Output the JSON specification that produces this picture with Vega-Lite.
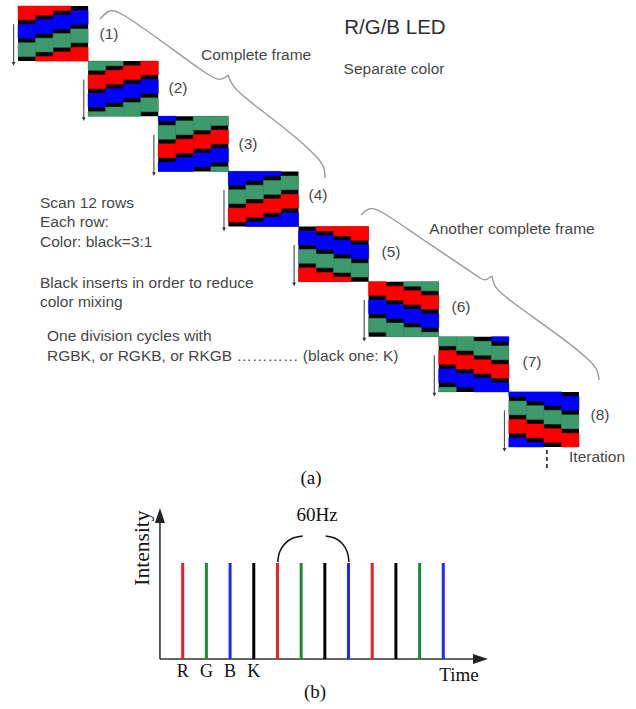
{
  "$schema": "https://vega.github.io/schema/vega-lite/v6.json",
  "padding": 0,
  "spacing": 0,
  "background": "white",
  "config": {"view": {"stroke": null}, "concat": {"spacing": 0}},
  "resolve": {"scale": {"x": "independent", "y": "independent", "color": "independent"}},
  "vconcat": [
    {
      "width": 636,
      "height": 490,
      "encoding": {
        "x": {"field": "x", "type": "quantitative", "scale": {"domain": [-1.027, 35.253], "nice": false, "zero": false}, "axis": null},
        "y": {"field": "y", "type": "quantitative", "scale": {"domain": [-1.306, 105.36], "nice": false, "zero": false, "reverse": true}, "axis": null}
      },
      "layer": [
        {
          "data": {"values": [
            {"x":0,"x2":4,"y":0,"y2":12},{"x":4,"x2":8,"y":12,"y2":24},{"x":8,"x2":12,"y":24,"y2":36},{"x":12,"x2":16,"y":36,"y2":48},
            {"x":16,"x2":20,"y":48,"y2":60},{"x":20,"x2":24,"y":60,"y2":72},{"x":24,"x2":28,"y":72,"y2":84},{"x":28,"x2":32,"y":84,"y2":96}
          ]},
          "mark": {"type": "rect", "fill": "#000000"},
          "encoding": {"x2": {"field": "x2"}, "y2": {"field": "y2"}}
        },
        {
          "data": {"values": [
            {"x":0,"x2":1,"y":0,"y2":3,"k":"R"},{"x":0,"x2":1,"y":4,"y2":7,"k":"B"},{"x":0,"x2":1,"y":8,"y2":11,"k":"G"},
            {"x":1,"x2":2,"y":0,"y2":2,"k":"R"},{"x":1,"x2":2,"y":3,"y2":6,"k":"B"},{"x":1,"x2":2,"y":7,"y2":10,"k":"G"},{"x":1,"x2":2,"y":11,"y2":12,"k":"R"},
            {"x":2,"x2":3,"y":0,"y2":1,"k":"R"},{"x":2,"x2":3,"y":2,"y2":5,"k":"B"},{"x":2,"x2":3,"y":6,"y2":9,"k":"G"},{"x":2,"x2":3,"y":10,"y2":12,"k":"R"},
            {"x":3,"x2":4,"y":1,"y2":4,"k":"B"},{"x":3,"x2":4,"y":5,"y2":8,"k":"G"},{"x":3,"x2":4,"y":9,"y2":12,"k":"R"},
            {"x":4,"x2":5,"y":12,"y2":14,"k":"G"},{"x":4,"x2":5,"y":15,"y2":18,"k":"R"},{"x":4,"x2":5,"y":19,"y2":22,"k":"B"},{"x":4,"x2":5,"y":23,"y2":24,"k":"G"},
            {"x":5,"x2":6,"y":12,"y2":13,"k":"G"},{"x":5,"x2":6,"y":14,"y2":17,"k":"R"},{"x":5,"x2":6,"y":18,"y2":21,"k":"B"},{"x":5,"x2":6,"y":22,"y2":24,"k":"G"},
            {"x":6,"x2":7,"y":13,"y2":16,"k":"R"},{"x":6,"x2":7,"y":17,"y2":20,"k":"B"},{"x":6,"x2":7,"y":21,"y2":24,"k":"G"},
            {"x":7,"x2":8,"y":12,"y2":15,"k":"R"},{"x":7,"x2":8,"y":16,"y2":19,"k":"B"},{"x":7,"x2":8,"y":20,"y2":23,"k":"G"},
            {"x":8,"x2":9,"y":24,"y2":25,"k":"B"},{"x":8,"x2":9,"y":26,"y2":29,"k":"G"},{"x":8,"x2":9,"y":30,"y2":33,"k":"R"},{"x":8,"x2":9,"y":34,"y2":36,"k":"B"},
            {"x":9,"x2":10,"y":25,"y2":28,"k":"G"},{"x":9,"x2":10,"y":29,"y2":32,"k":"R"},{"x":9,"x2":10,"y":33,"y2":36,"k":"B"},
            {"x":10,"x2":11,"y":24,"y2":27,"k":"G"},{"x":10,"x2":11,"y":28,"y2":31,"k":"R"},{"x":10,"x2":11,"y":32,"y2":35,"k":"B"},
            {"x":11,"x2":12,"y":24,"y2":26,"k":"G"},{"x":11,"x2":12,"y":27,"y2":30,"k":"R"},{"x":11,"x2":12,"y":31,"y2":34,"k":"B"},{"x":11,"x2":12,"y":35,"y2":36,"k":"G"},
            {"x":12,"x2":13,"y":36,"y2":39,"k":"B"},{"x":12,"x2":13,"y":40,"y2":43,"k":"G"},{"x":12,"x2":13,"y":44,"y2":47,"k":"R"},
            {"x":13,"x2":14,"y":36,"y2":38,"k":"B"},{"x":13,"x2":14,"y":39,"y2":42,"k":"G"},{"x":13,"x2":14,"y":43,"y2":46,"k":"R"},{"x":13,"x2":14,"y":47,"y2":48,"k":"B"},
            {"x":14,"x2":15,"y":36,"y2":37,"k":"B"},{"x":14,"x2":15,"y":38,"y2":41,"k":"G"},{"x":14,"x2":15,"y":42,"y2":45,"k":"R"},{"x":14,"x2":15,"y":46,"y2":48,"k":"B"},
            {"x":15,"x2":16,"y":37,"y2":40,"k":"G"},{"x":15,"x2":16,"y":41,"y2":44,"k":"R"},{"x":15,"x2":16,"y":45,"y2":48,"k":"B"},
            {"x":16,"x2":17,"y":49,"y2":52,"k":"B"},{"x":16,"x2":17,"y":53,"y2":56,"k":"G"},{"x":16,"x2":17,"y":57,"y2":60,"k":"R"},
            {"x":17,"x2":18,"y":48,"y2":49,"k":"R"},{"x":17,"x2":18,"y":50,"y2":53,"k":"B"},{"x":17,"x2":18,"y":54,"y2":57,"k":"G"},{"x":17,"x2":18,"y":58,"y2":60,"k":"R"},
            {"x":18,"x2":19,"y":48,"y2":50,"k":"R"},{"x":18,"x2":19,"y":51,"y2":54,"k":"B"},{"x":18,"x2":19,"y":55,"y2":58,"k":"G"},{"x":18,"x2":19,"y":59,"y2":60,"k":"R"},
            {"x":19,"x2":20,"y":48,"y2":51,"k":"R"},{"x":19,"x2":20,"y":52,"y2":55,"k":"B"},{"x":19,"x2":20,"y":56,"y2":59,"k":"G"},
            {"x":20,"x2":21,"y":60,"y2":63,"k":"R"},{"x":20,"x2":21,"y":64,"y2":67,"k":"B"},{"x":20,"x2":21,"y":68,"y2":71,"k":"G"},
            {"x":21,"x2":22,"y":61,"y2":64,"k":"R"},{"x":21,"x2":22,"y":65,"y2":68,"k":"B"},{"x":21,"x2":22,"y":69,"y2":72,"k":"G"},
            {"x":22,"x2":23,"y":60,"y2":61,"k":"G"},{"x":22,"x2":23,"y":62,"y2":65,"k":"R"},{"x":22,"x2":23,"y":66,"y2":69,"k":"B"},{"x":22,"x2":23,"y":70,"y2":72,"k":"G"},
            {"x":23,"x2":24,"y":60,"y2":62,"k":"G"},{"x":23,"x2":24,"y":63,"y2":66,"k":"R"},{"x":23,"x2":24,"y":67,"y2":70,"k":"B"},{"x":23,"x2":24,"y":71,"y2":72,"k":"G"},
            {"x":24,"x2":25,"y":72,"y2":74,"k":"G"},{"x":24,"x2":25,"y":75,"y2":78,"k":"R"},{"x":24,"x2":25,"y":79,"y2":82,"k":"B"},{"x":24,"x2":25,"y":83,"y2":84,"k":"G"},
            {"x":25,"x2":26,"y":72,"y2":75,"k":"G"},{"x":25,"x2":26,"y":76,"y2":79,"k":"R"},{"x":25,"x2":26,"y":80,"y2":83,"k":"B"},
            {"x":26,"x2":27,"y":73,"y2":76,"k":"G"},{"x":26,"x2":27,"y":77,"y2":80,"k":"R"},{"x":26,"x2":27,"y":81,"y2":84,"k":"B"},
            {"x":27,"x2":28,"y":72,"y2":73,"k":"B"},{"x":27,"x2":28,"y":74,"y2":77,"k":"G"},{"x":27,"x2":28,"y":78,"y2":81,"k":"R"},{"x":27,"x2":28,"y":82,"y2":84,"k":"B"},
            {"x":28,"x2":29,"y":84,"y2":85,"k":"B"},{"x":28,"x2":29,"y":86,"y2":89,"k":"G"},{"x":28,"x2":29,"y":90,"y2":93,"k":"R"},{"x":28,"x2":29,"y":94,"y2":96,"k":"B"},
            {"x":29,"x2":30,"y":84,"y2":86,"k":"B"},{"x":29,"x2":30,"y":87,"y2":90,"k":"G"},{"x":29,"x2":30,"y":91,"y2":94,"k":"R"},{"x":29,"x2":30,"y":95,"y2":96,"k":"B"},
            {"x":30,"x2":31,"y":84,"y2":87,"k":"B"},{"x":30,"x2":31,"y":88,"y2":91,"k":"G"},{"x":30,"x2":31,"y":92,"y2":95,"k":"R"},
            {"x":31,"x2":32,"y":85,"y2":88,"k":"B"},{"x":31,"x2":32,"y":89,"y2":92,"k":"G"},{"x":31,"x2":32,"y":93,"y2":96,"k":"R"}
          ]},
          "mark": {"type": "rect", "strokeWidth": 0.5},
          "encoding": {
            "x2": {"field": "x2"},
            "y2": {"field": "y2"},
            "color": {"field": "k", "type": "nominal", "scale": {"domain": ["R", "G", "B"], "range": ["#ff0000", "#3d9a6c", "#0000ff"]}, "legend": null},
            "stroke": {"field": "k", "type": "nominal", "scale": {"domain": ["R", "G", "B"], "range": ["#ff0000", "#3d9a6c", "#0000ff"]}, "legend": null}
          }
        },
        {
          "data": {"values": [
            {"x":-0.25,"y":4,"y2":12.6},{"x":3.75,"y":16,"y2":24.6},{"x":7.75,"y":28,"y2":36.6},{"x":11.75,"y":40,"y2":48.6},
            {"x":15.75,"y":52,"y2":60.6},{"x":19.75,"y":64,"y2":72.6},{"x":23.75,"y":76,"y2":84.6},{"x":27.75,"y":88,"y2":96.6}
          ]},
          "mark": {"type": "rule", "color": "#555555", "strokeWidth": 1.2},
          "encoding": {"y2": {"field": "y2"}}
        },
        {
          "data": {"values": [
            {"x":-0.25,"y2":12.6},{"x":3.75,"y2":24.6},{"x":7.75,"y2":36.6},{"x":11.75,"y2":48.6},
            {"x":15.75,"y2":60.6},{"x":19.75,"y2":72.6},{"x":23.75,"y2":84.6},{"x":27.75,"y2":96.6}
          ]},
          "mark": {"type": "point", "shape": "M-1,-1L1,-1L0,1Z", "filled": true, "size": 14, "color": "#333333", "opacity": 1},
          "encoding": {"y": {"field": "y2", "type": "quantitative", "scale": {"domain": [-1.306, 105.36], "nice": false, "zero": false, "reverse": true}, "axis": null}}
        },
        {
          "data": {"values": [
            {"x":4.677,"y":2.830,"seg":"a1","o":0},{"x":5.134,"y":0.871,"seg":"a1","o":1},{"x":5.704,"y":0.871,"seg":"a1","o":2},{"x":8.100,"y":7.401,"seg":"a1","o":3},{"x":10.667,"y":14.585,"seg":"a1","o":4},{"x":11.522,"y":16.544,"seg":"a1","o":5},{"x":11.979,"y":15.020,"seg":"a1","o":6},
            {"x":11.979,"y":15.020,"seg":"a2","o":0},{"x":12.207,"y":17.415,"seg":"a2","o":1},{"x":12.949,"y":20.027,"seg":"a2","o":2},{"x":15.515,"y":27.428,"seg":"a2","o":3},{"x":17.113,"y":32.871,"seg":"a2","o":4},{"x":17.512,"y":35.265,"seg":"a2","o":5},{"x":17.512,"y":37.442,"seg":"a2","o":6},
            {"x":19.565,"y":45.496,"seg":"b1","o":0},{"x":19.965,"y":43.972,"seg":"b1","o":1},{"x":20.535,"y":43.972,"seg":"b1","o":2},{"x":22.931,"y":50.503,"seg":"b1","o":3},{"x":26.068,"y":58.340,"seg":"b1","o":4},{"x":26.582,"y":60.081,"seg":"b1","o":5},{"x":27.038,"y":58.775,"seg":"b1","o":6},
            {"x":27.038,"y":58.775,"seg":"b2","o":0},{"x":27.152,"y":61.169,"seg":"b2","o":1},{"x":27.836,"y":63.564,"seg":"b2","o":2},{"x":30.917,"y":71.836,"seg":"b2","o":3},{"x":32.628,"y":77.060,"seg":"b2","o":4},{"x":33.084,"y":79.237,"seg":"b2","o":5},{"x":33.141,"y":81.414,"seg":"b2","o":6}
          ]},
          "mark": {"type": "line", "interpolate": "basis", "color": "#9a9a9a", "strokeWidth": 1.4},
          "encoding": {"detail": {"field": "seg"}, "order": {"field": "o", "type": "quantitative"}}
        },
        {
          "data": {"values": [{"x":30.17,"y":96.65,"y2":101.0}]},
          "mark": {"type": "rule", "color": "#222222", "strokeWidth": 1.6, "strokeDash": [4, 3]},
          "encoding": {"y2": {"field": "y2"}}
        },
        {
          "data": {"values": [
            {"x":5.19,"y":6.10,"t":"(1)"},{"x":9.13,"y":17.85,"t":"(2)"},{"x":13.12,"y":30.04,"t":"(3)"},{"x":17.11,"y":41.14,"t":"(4)"},
            {"x":21.28,"y":53.55,"t":"(5)"},{"x":25.27,"y":65.52,"t":"(6)"},{"x":29.32,"y":77.50,"t":"(7)"},{"x":33.20,"y":89.03,"t":"(8)"},
            {"x":13.58,"y":10.67,"t":"Complete frame"},{"x":21.45,"y":13.71,"t":"Separate color"},
            {"x":28.18,"y":48.54,"t":"Another complete frame"},{"x":33.03,"y":98.18,"t":"Iteration"}
          ]},
          "mark": {"type": "text", "font": "Liberation Sans", "fontSize": 15.5, "color": "#474747", "align": "center", "baseline": "middle"},
          "encoding": {"text": {"field": "t"}}
        },
        {
          "data": {"values": [
            {"x":1.255,"y":42.88,"t":"Scan 12 rows"},{"x":1.255,"y":47.02,"t":"Each row:"},{"x":1.255,"y":51.37,"t":"Color: black=3:1"},
            {"x":1.255,"y":60.30,"t":"Black inserts in order to reduce"},{"x":1.255,"y":64.43,"t":"color mixing"},
            {"x":1.654,"y":71.84,"t":"One division cycles with"},{"x":1.654,"y":76.19,"t":"RGBK, or RGKB, or RKGB ………… (black one: K)"}
          ]},
          "mark": {"type": "text", "font": "Liberation Sans", "fontSize": 15.5, "color": "#474747", "align": "left", "baseline": "middle"},
          "encoding": {"text": {"field": "t"}}
        },
        {
          "data": {"values": [{"x":21.50,"y":4.79,"t":"R/G/B LED"}]},
          "mark": {"type": "text", "font": "Liberation Sans", "fontSize": 20.5, "color": "#2e2e2e", "align": "center", "baseline": "middle"},
          "encoding": {"text": {"field": "t"}}
        },
        {
          "data": {"values": [{"x":16.71,"y":102.75,"t":"(a)"}]},
          "mark": {"type": "text", "font": "Liberation Serif", "fontSize": 19, "color": "#111111", "align": "center", "baseline": "middle"},
          "encoding": {"text": {"field": "t"}}
        }
      ]
    },
    {
      "width": 636,
      "height": 219,
      "encoding": {
        "x": {"field": "x", "type": "quantitative", "scale": {"domain": [-6.712, 20.135], "nice": false, "zero": false}, "axis": null},
        "y": {"field": "y", "type": "quantitative", "scale": {"domain": [-0.5208, 1.7604], "nice": false, "zero": false}, "axis": null}
      },
      "layer": [
        {
          "data": {"values": [{"x":0.04,"y":0,"x2":13.6,"y2":0},{"x":0.04,"y":0,"x2":0.04,"y2":1.5}]},
          "mark": {"type": "rule", "color": "#333333", "strokeWidth": 1.6},
          "encoding": {"x2": {"field": "x2"}, "y2": {"field": "y2"}}
        },
        {
          "data": {"values": [{"x":13.57,"y":0}]},
          "mark": {"type": "point", "shape": "M-1,-0.67L1,0L-1,0.67Z", "filled": true, "size": 225, "color": "#222222", "opacity": 1},
          "encoding": {}
        },
        {
          "data": {"values": [{"x":0.04,"y":1.495}]},
          "mark": {"type": "point", "shape": "M-0.67,1L0,-1L0.67,1Z", "filled": true, "size": 225, "color": "#222222", "opacity": 1},
          "encoding": {}
        },
        {
          "data": {"values": [
            {"x":1,"y":1,"c":"R"},{"x":2,"y":1,"c":"G"},{"x":3,"y":1,"c":"B"},{"x":4,"y":1,"c":"K"},
            {"x":5,"y":1,"c":"R"},{"x":6,"y":1,"c":"G"},{"x":7,"y":1,"c":"K"},{"x":8,"y":1,"c":"B"},
            {"x":9,"y":1,"c":"R"},{"x":10,"y":1,"c":"K"},{"x":11,"y":1,"c":"G"},{"x":12,"y":1,"c":"B"}
          ]},
          "mark": {"type": "rule", "strokeWidth": 3},
          "encoding": {
            "y2": {"datum": 0},
            "color": {"field": "c", "type": "nominal", "scale": {"domain": ["R", "G", "B", "K"], "range": ["#ee1c24", "#1f8a35", "#1f2de8", "#000000"]}, "legend": null}
          }
        },
        {
          "data": {"values": [
            {"x":5.011,"y":1.010,"seg":"l","o":0},{"x":5.091,"y":1.115,"seg":"l","o":1},{"x":5.319,"y":1.202,"seg":"l","o":2},{"x":5.661,"y":1.260,"seg":"l","o":3},{"x":6.066,"y":1.281,"seg":"l","o":4},
            {"x":7.037,"y":1.281,"seg":"r","o":0},{"x":7.413,"y":1.260,"seg":"r","o":1},{"x":7.733,"y":1.202,"seg":"r","o":2},{"x":7.944,"y":1.115,"seg":"r","o":3},{"x":8.020,"y":1.010,"seg":"r","o":4}
          ]},
          "mark": {"type": "line", "interpolate": "natural", "color": "#111111", "strokeWidth": 1.5},
          "encoding": {"detail": {"field": "seg"}, "order": {"field": "o", "type": "quantitative"}}
        },
        {
          "data": {"values": [{"x":1,"y":-0.135,"t":"R"},{"x":2,"y":-0.135,"t":"G"},{"x":3,"y":-0.135,"t":"B"},{"x":4,"y":-0.135,"t":"K"}]},
          "mark": {"type": "text", "font": "Liberation Serif", "fontSize": 18, "color": "#111111", "align": "center", "baseline": "middle"},
          "encoding": {"text": {"field": "t"}}
        },
        {
          "data": {"values": [{"x":12.66,"y":-0.167,"t":"Time"},{"x":6.67,"y":1.5,"t":"60Hz"},{"x":6.585,"y":-0.344,"t":"(b)"}]},
          "mark": {"type": "text", "font": "Liberation Serif", "fontSize": 19, "color": "#111111", "align": "center", "baseline": "middle"},
          "encoding": {"text": {"field": "t"}}
        },
        {
          "data": {"values": [{"x":-0.675,"y":1.156,"t":"Intensity"}]},
          "mark": {"type": "text", "font": "Liberation Serif", "fontSize": 21.5, "color": "#111111", "align": "center", "baseline": "middle", "angle": 270},
          "encoding": {"text": {"field": "t"}}
        }
      ]
    }
  ]
}
